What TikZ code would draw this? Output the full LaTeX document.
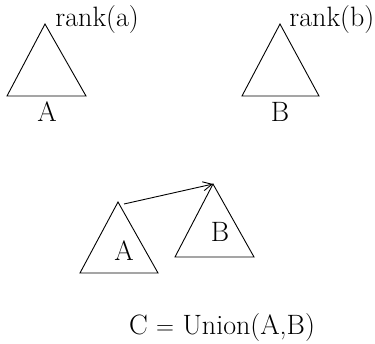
\documentclass[tikz,border=0pt]{standalone}
\usetikzlibrary{arrows.meta}
\begin{document}
\begin{tikzpicture}[x=1pt,y=-1pt,line width=0.9pt,
  lbl/.style={inner sep=0pt,font=\fontsize{28}{33}\selectfont},
  tri/.style={draw=black,line join=miter}]
\useasboundingbox (0,0) rectangle (375,343);
% top left triangle A
\coordinate (a1t) at (45,24);
\coordinate (a1l) at (7,96);
\coordinate (a1r) at (86,96);
\draw[tri] (a1t) -- (a1l) -- (a1r) -- cycle;
\node[lbl,anchor=base west] (ranka) at (55,26) {rank(a)};
\node[lbl,anchor=base] (la1) at (47,121) {A};
% top right triangle B
\coordinate (b1t) at (280,24);
\coordinate (b1l) at (242,96);
\coordinate (b1r) at (319,96);
\draw[tri] (b1t) -- (b1l) -- (b1r) -- cycle;
\node[lbl,anchor=base west] (rankb) at (289,26) {rank(b)};
\node[lbl,anchor=base] (lb1) at (280,121) {B};
% lower A
\coordinate (a2t) at (118,202);
\coordinate (a2l) at (80,273);
\coordinate (a2r) at (158,273);
\draw[tri] (a2t) -- (a2l) -- (a2r) -- cycle;
\node[lbl,anchor=base] (la2) at (124,260) {A};
% lower B
\coordinate (b2t) at (213,184);
\coordinate (b2l) at (175,257);
\coordinate (b2r) at (254,257);
\draw[tri] (b2t) -- (b2l) -- (b2r) -- cycle;
\node[lbl,anchor=base] (lb2) at (220,241) {B};
% arrow
\coordinate (as) at (124,204);
\draw[-{Straight Barb[length=9pt,width=9pt]}] (as) -- (b2t);
% caption
\node[lbl,anchor=base] (cap) at (222,334) {C $=$ Union(A,B)};
\end{tikzpicture}
\end{document}
